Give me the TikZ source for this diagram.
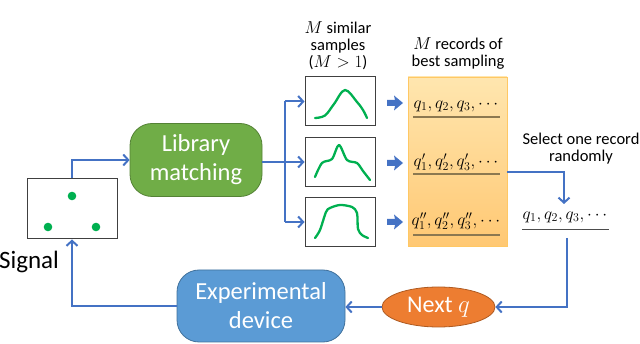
\documentclass[tikz,border=0pt]{standalone}
\usepackage{fontspec}
\setmainfont{Carlito}
\usetikzlibrary{arrows.meta,shapes.geometric,calc}
\definecolor{conn}{RGB}{68,114,196}
\definecolor{lmgreen}{RGB}{112,173,71}
\definecolor{lmborder}{RGB}{84,130,53}
\definecolor{edblue}{RGB}{91,155,213}
\definecolor{edborder}{RGB}{65,113,156}
\definecolor{nqorange}{RGB}{237,125,49}
\definecolor{nqborder}{RGB}{174,90,33}
\definecolor{curve}{RGB}{0,176,80}
\definecolor{paneltop}{RGB}{255,230,175}
\definecolor{panelbot}{RGB}{255,200,115}
\definecolor{panelborder}{RGB}{255,200,100}
\definecolor{uline}{RGB}{140,120,80}
\begin{document}
\begin{tikzpicture}[x=1pt,y=-1pt,
  conn/.style={draw=conn,line width=2pt},
  arr/.style={conn,-{Straight Barb[length=5pt,width=11pt]}},
  blockbox/.style={rounded corners=22pt,line width=0.8pt,text=white,align=center,
     font=\fontsize{24.5}{29}\selectfont,inner sep=0pt},
  samplebox/.style={draw=black!75,line width=1pt,minimum width=70pt,minimum height=49pt,inner sep=0pt},
  curveline/.style={draw=curve,line width=2.3pt,line cap=round,line join=round},
  rec/.style={font=\fontsize{16.5}{19}\selectfont,inner sep=0pt},
  hdr/.style={align=center,font=\fontsize{16.5}{17}\selectfont,inner sep=0pt},
  blockarrow/.style={fill=conn,draw=none}
]
\useasboundingbox (0,0) rectangle (640,344);

% Signal box
\node[draw=black!75,line width=1pt,minimum width=90pt,minimum height=60pt,inner sep=0pt] (sig) at (72,209) {};
\fill[curve] (72,196) circle (4.3pt) (48,227) circle (4.3pt) (96,227) circle (4.3pt);
\node[inner sep=0pt,font=\fontsize{25}{29}\selectfont] (sigtxt) at (29,262) {Signal};

% Library matching
\node[blockbox,fill=lmgreen,draw=lmborder,minimum width=132pt,minimum height=73pt] (lm) at (196,160) {Library\\matching};

% Sample boxes
\node[samplebox] (s1) at (340,101.5) {};
\node[samplebox] (s2) at (340,162) {};
\node[samplebox] (s3) at (340,222) {};

\draw[curveline] plot[smooth,tension=0.6] coordinates {(315,118) (325,115.5) (334,104) (345,90) (357,102) (363,110) (367,118)};
\draw[curveline] plot[smooth,tension=0.5] coordinates {(315,177) (322,163) (332,159) (339,145) (347,160) (357,163) (363,171) (370,180)};
\draw[curveline] plot[smooth,tension=0.5] coordinates {(315,238) (320,230) (326,212) (330,208) (340,205) (352,207) (357,213) (358,229) (362,235) (368,238)};

% headers
\node[hdr] (h1) at (338,46) {$M$ similar\\samples\\($M>1$)};
\node[hdr] (h2) at (458,53.5) {$M$ records of\\best sampling};

% Panel
\node[draw=panelborder,line width=0.8pt,top color=paneltop,bottom color=panelbot,minimum width=99pt,minimum height=169pt,inner sep=0pt] (panel) at (457.5,161.5) {};
\node[rec] (r1) at (456,106) {$q_1,q_2,q_3,\cdots$};
\node[rec] (r2) at (456,162) {$q_1',q_2',q_3',\cdots$};
\node[rec] (r3) at (456,221) {$q_1'',q_2'',q_3'',\cdots$};
\draw[uline,line width=1.1pt] (413,117) -- (500,117) (413,174) -- (500,174) (413,235) -- (500,235);

% block arrows
\foreach \yy in {103,163,222}{
  \fill[blockarrow] (387,\yy-3) -- (395,\yy-3) -- (394,\yy-7.5) -- (403,\yy) -- (394,\yy+7.5) -- (395,\yy+3) -- (387,\yy+3) -- cycle;
}

% branch connectors
\coordinate (jn) at (285,162);
\draw[arr] (lm.east |- s2.west) -- (s2.west);
\draw[conn] (jn |- s1.west) -- (jn |- s3.west);
\draw[arr] (jn |- s1.west) -- (s1.west);
\draw[arr] (jn |- s3.west) -- (s3.west);

% Signal to library
\draw[arr] (sig.north) |- (lm.west);

% Select one record
\node[hdr] (sel) at (581,148.5) {Select one record\\randomly};
\node[rec] (rec) at (565,217) {$q_1,q_2,q_3,\cdots$};
\draw[black!70,line width=1pt] (522,230) -- (609,230);
\coordinate (pout) at (507,172);
\coordinate (rin) at (564,204);
\draw[arr] (pout) -| (rin);

% Next q
\node[ellipse,fill=nqorange,draw=nqborder,line width=0.8pt,minimum width=113pt,minimum height=40pt,inner sep=0pt,text=white,font=\fontsize{24}{28}\selectfont] (nq) at (438.5,307) {Next $q$};
\coordinate (rout) at (567,238);
\draw[arr] (rout) |- (nq.east);

% Experimental device
\node[blockbox,fill=edblue,draw=edborder,minimum width=168pt,minimum height=72pt] (ed) at (261,306) {Experimental\\device};
\draw[arr] (nq.west) -- (ed.east |- nq.west);
\draw[arr] (ed.west) -| (sig.south);
\end{tikzpicture}
\end{document}
